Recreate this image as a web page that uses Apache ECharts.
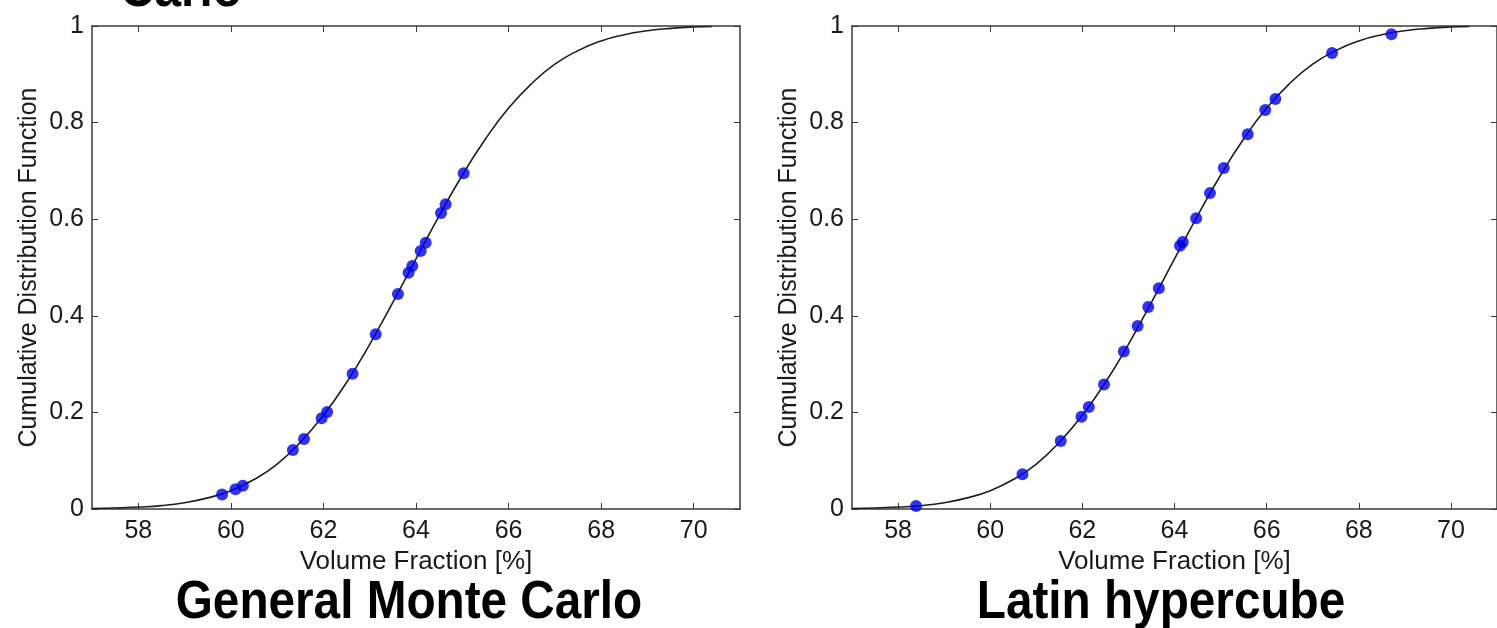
<!DOCTYPE html>
<html>
<head>
<meta charset="utf-8">
<title>CDF - General Monte Carlo vs Latin hypercube</title>
<script src="https://cdn.jsdelivr.net/npm/echarts@6/dist/echarts.min.js"></script>
<style>
  html, body { margin: 0; padding: 0; background: #fff; }
  #main { width: 1497px; height: 628px; }
</style>
</head>
<body>
<div id="main"></div>
<script>
// x positions of the fitted curve (volume fraction, %)
var curveX = [57, 57.5, 58, 58.5, 59, 59.5, 60, 60.5, 61, 61.5, 62, 62.5, 63, 63.5,
              64, 64.5, 65, 65.5, 66, 66.5, 67, 67.5, 68, 68.5, 69, 69.5, 70, 70.4];
// curve values
var gmcCurve = [0.001, 0.002, 0.004, 0.007, 0.013, 0.023, 0.038, 0.061, 0.093, 0.138, 0.194, 0.262, 0.341, 0.428,
                0.518, 0.607, 0.691, 0.766, 0.830, 0.881, 0.921, 0.949, 0.969, 0.982, 0.990, 0.995, 0.998, 0.999];
var lhsCurve = [0.001, 0.002, 0.004, 0.007, 0.013, 0.023, 0.038, 0.061, 0.093, 0.138, 0.194, 0.262, 0.341, 0.428,
                0.518, 0.607, 0.691, 0.766, 0.830, 0.881, 0.921, 0.949, 0.969, 0.982, 0.990, 0.995, 0.998, 0.999];

// sample points, General Monte Carlo
var gmcX = [59.81, 60.10, 60.26, 61.34, 61.58, 61.96, 62.08, 62.63, 63.13, 63.61,
            63.84, 63.92, 64.10, 64.21, 64.54, 64.64, 65.03];
var gmcY = [0.030, 0.041, 0.048, 0.122, 0.145, 0.188, 0.201, 0.280, 0.362, 0.445,
            0.489, 0.503, 0.534, 0.551, 0.613, 0.631, 0.695];

// sample points, Latin hypercube
var lhsX = [58.39, 60.70, 61.53, 61.98, 62.14, 62.47, 62.90, 63.20, 63.43, 63.66,
            64.12, 64.18, 64.47, 64.77, 65.07, 65.59, 65.97, 66.19, 67.42, 68.71];
var lhsY = [0.006, 0.072, 0.141, 0.191, 0.211, 0.258, 0.326, 0.379, 0.418, 0.457,
            0.545, 0.553, 0.602, 0.654, 0.706, 0.776, 0.826, 0.849, 0.944, 0.983];

var xTicks = [58, 60, 62, 64, 66, 68, 70];
var panelTitles = ['General Monte Carlo', 'Latin hypercube'];

var FONT = '"Liberation Sans", Arial, sans-serif';
var lineCol = '#3a3a3a';

function pairs(xs, ys) {
  var out = [];
  for (var i = 0; i < xs.length; i++) out.push([xs[i], ys[i]]);
  return out;
}

// bottom / top x axis for one grid
function xAxes(g) {
  var base = {
    gridIndex: g, type: 'value', min: 57, max: 71,
    splitLine: { show: false },
    axisLine: { show: true, onZero: false, lineStyle: { color: lineCol, width: 1.5 } },
    axisTick: { show: true, inside: true, length: 6, customValues: xTicks, lineStyle: { color: lineCol } }
  };
  var bottom = echarts.util.merge({
    position: 'bottom',
    name: 'Volume Fraction [%]', nameLocation: 'middle', nameGap: 32,
    nameTextStyle: { fontSize: 26, color: '#1a1a1a', fontFamily: FONT },
    axisLabel: { customValues: xTicks, fontSize: 25, color: '#1a1a1a', margin: 10, fontFamily: FONT }
  }, echarts.util.clone(base), false);
  var top = echarts.util.merge({
    position: 'top', axisLabel: { show: false }
  }, echarts.util.clone(base), false);
  return [bottom, top];
}

function yAxes(g) {
  var base = {
    gridIndex: g, type: 'value', min: 0, max: 1, interval: 0.2,
    splitLine: { show: false },
    axisLine: { show: true, onZero: false, lineStyle: { color: lineCol, width: 1.5 } },
    axisTick: { show: true, inside: true, length: 6, lineStyle: { color: lineCol } }
  };
  var left = echarts.util.merge({
    position: 'left',
    name: 'Cumulative Distribution Function', nameLocation: 'middle', nameGap: 50,
    nameTextStyle: { fontSize: 25, color: '#1a1a1a', fontFamily: FONT },
    axisLabel: { fontSize: 25, color: '#1a1a1a', margin: 8, fontFamily: FONT }
  }, echarts.util.clone(base), false);
  var right = echarts.util.merge({
    position: 'right', axisLabel: { show: false }
  }, echarts.util.clone(base), false);
  return [left, right];
}

var chart = echarts.init(document.getElementById('main'));

var option = {
  backgroundColor: '#fff',
  animation: false,
  textStyle: { fontFamily: FONT },
  grid: [
    { left: 92, top: 26, width: 648, height: 483 },
    { left: 852, top: 26, width: 650, height: 483 }
  ],
  xAxis: xAxes(0).concat(xAxes(1)),
  yAxis: yAxes(0).concat(yAxes(1)),
  series: [
    { type: 'line', xAxisIndex: 0, yAxisIndex: 0, data: pairs(curveX, gmcCurve), smooth: true,
      showSymbol: false, lineStyle: { color: '#1e1e1e', width: 1.6 }, z: 2 },
    { type: 'scatter', xAxisIndex: 0, yAxisIndex: 0, data: pairs(gmcX, gmcY),
      symbolSize: 12, itemStyle: { color: '#0000ea' }, z: 3 },
    { type: 'line', xAxisIndex: 2, yAxisIndex: 2, data: pairs(curveX, lhsCurve), smooth: true,
      showSymbol: false, lineStyle: { color: '#1e1e1e', width: 1.6 }, z: 2 },
    { type: 'scatter', xAxisIndex: 2, yAxisIndex: 2, data: pairs(lhsX, lhsY),
      symbolSize: 12, itemStyle: { color: '#0000ea' }, z: 3 }
  ],
  graphic: [
    // cut-off title of the panel above
    { type: 'text', x: 181, y: -9, scaleX: 0.9,
      style: { text: 'Carlo', font: 'bold 53px ' + FONT, textAlign: 'center', textVerticalAlign: 'middle', fill: '#000' } },
    { type: 'text', x: 409, y: 603, scaleX: 0.9,
      style: { text: panelTitles[0], font: 'bold 53px ' + FONT, textAlign: 'center', textVerticalAlign: 'middle', fill: '#000' } },
    { type: 'text', x: 1161, y: 603, scaleX: 0.9,
      style: { text: panelTitles[1], font: 'bold 53px ' + FONT, textAlign: 'center', textVerticalAlign: 'middle', fill: '#000' } }
  ]
};

chart.setOption(option);
</script>
</body>
</html>
